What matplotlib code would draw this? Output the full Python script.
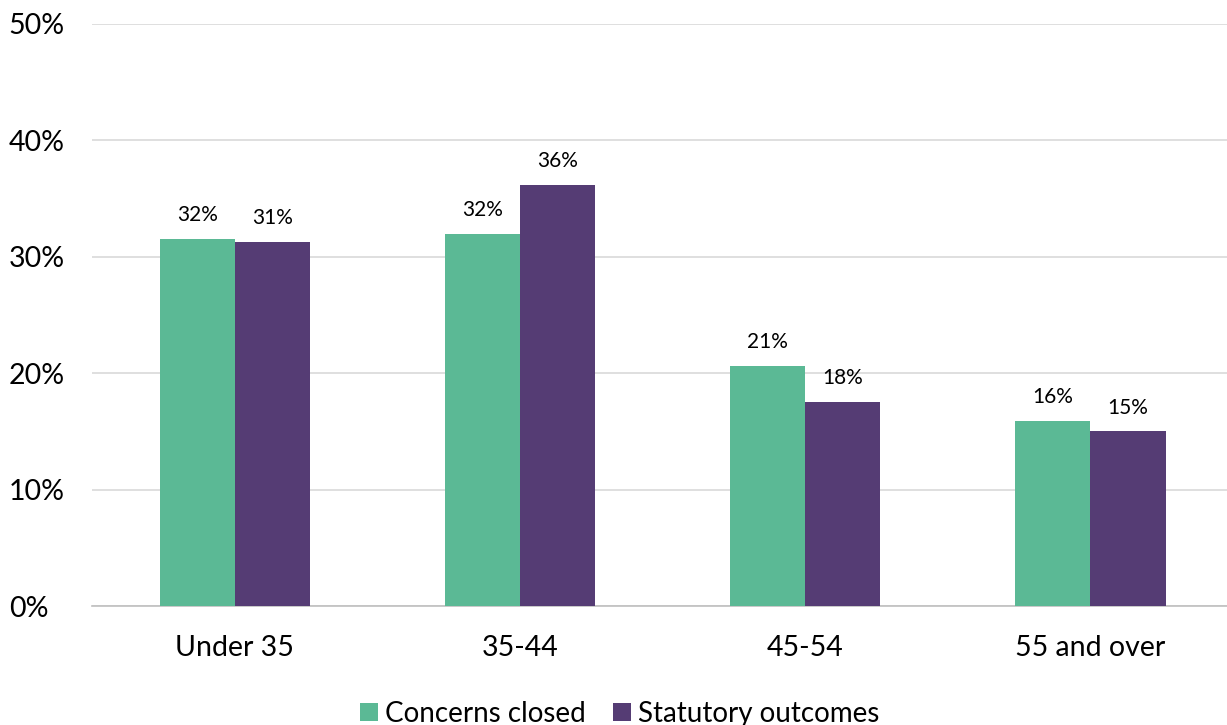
import matplotlib.pyplot as plt
import numpy as np
from matplotlib.ticker import PercentFormatter

plt.rcParams["font.family"] = ["Lato", "DejaVu Sans"]

# Data
categories = ["Under 35", "35-44", "45-54", "55 and over"]
concerns_closed = [31.5, 32.0, 20.6, 15.9]
statutory_outcomes = [31.3, 36.2, 17.5, 15.0]
concerns_labels = ["32%", "32%", "21%", "16%"]
statutory_labels = ["31%", "36%", "18%", "15%"]

green = "#5BB995"
purple = "#553C74"

fig = plt.figure(figsize=(12.27, 7.25), dpi=100)
ax = fig.add_axes([0.075, 0.164, 0.93, 0.803])

x = np.arange(len(categories))
width = 0.263

bars1 = ax.bar(x - width / 2, concerns_closed, width, color=green, label="Concerns closed", zorder=3)
bars2 = ax.bar(x + width / 2, statutory_outcomes, width, color=purple, label="Statutory outcomes", zorder=3)

# value labels above the bars
for bars, labels in [(bars1, concerns_labels), (bars2, statutory_labels)]:
    for b, lab in zip(bars, labels):
        ax.annotate(lab, (b.get_x() + b.get_width() / 2, b.get_height()),
                    xytext=(0, 10), textcoords="offset points",
                    ha="center", va="bottom", fontsize=15, color="#000000")

ax.set_xlim(-0.5, 3.5)
ax.set_ylim(0, 50)
ax.set_yticks(range(0, 51, 10))
ax.yaxis.set_major_formatter(PercentFormatter(decimals=0))
ax.set_xticks(x)
ax.set_xticklabels(categories)
ax.tick_params(axis="both", length=0, labelsize=20.5, colors="#000000")
ax.tick_params(axis="x", pad=21)
for lab in ax.get_yticklabels():
    lab.set_horizontalalignment("left")
ax.tick_params(axis="y", pad=60)

ax.grid(axis="y", color="#d9d9d9", linewidth=1.2, zorder=0)
for s in ["top", "right", "left"]:
    ax.spines[s].set_visible(False)
ax.spines["bottom"].set_color("#bfbfbf")
ax.spines["bottom"].set_linewidth(1.2)

fig.legend(loc="lower center", bbox_to_anchor=(0.505, -0.037), ncol=2, frameon=False,
           fontsize=20, handlelength=0.65, handleheight=0.65, handletextpad=0.25,
           columnspacing=0.95)

fig.savefig("out.png", dpi=100)
